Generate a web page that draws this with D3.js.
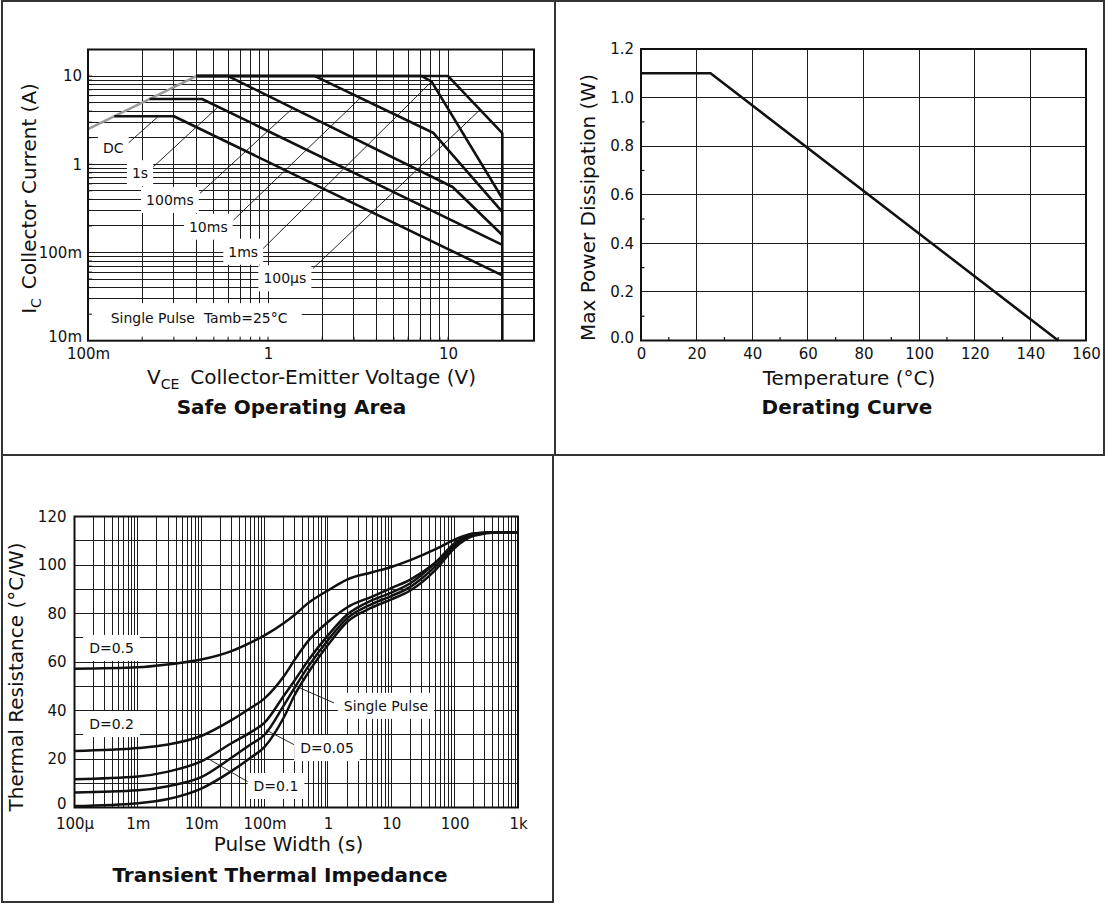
<!DOCTYPE html>
<html>
<head>
<meta charset="utf-8">
<script src="https://cdn.jsdelivr.net/npm/d3@7/dist/d3.min.js"></script>
<style>
html,body{margin:0;padding:0;background:#fff;}
svg{display:block;}
text{font-family:"DejaVu Sans","Liberation Sans",sans-serif;fill:#111;}
</style>
</head>
<body>
<svg id="chart" width="1106" height="904"></svg>
<script>
// ---------------- Safe Operating Area ----------------
const soaXTickValues = [0.1, 1, 10];
const soaXTickLabels = ["100m", "1", "10"];
const soaYTickValues = [0.01, 0.1, 1, 10];
const soaYTickLabels = ["10m", "100m", "1", "10"];
const soaLimitLine = [[0.1, 2.5], [0.4, 10]];
const soaDC    = [[0.14, 3.5], [0.30, 3.5], [20, 0.055]];
const soa1s    = [[0.22, 5.5], [0.43, 5.5], [20, 0.122]];
const soa100ms = [[0.4, 10], [0.6, 10], [10.6, 0.553], [20, 0.158]];
const soa10ms  = [[0.4, 10], [1.82, 10], [8.3, 2.26], [20, 0.288]];
const soa1ms   = [[0.4, 10], [7.14, 10], [8.1, 8.65], [20, 0.412]];
const soa100us = [[0.4, 10], [10.0, 10], [20, 2.25], [20, 0.01]];
const soaLabelNames = ["DC", "1s", "100ms", "10ms", "1ms", "100μs"];
const soaLabelPos = [[0.138, 1.52], [0.1945, 0.791], [0.285, 0.394], [0.466, 0.196], [0.728, 0.102], [1.24, 0.051]];
const soaLeaders = [
  [[0.167, 1.73], [0.246, 3.5]],
  [[0.226, 0.90], [0.53, 4.5]],
  [[0.419, 0.469], [1.376, 4.35]],
  [[0.643, 0.233], [3.27, 5.7]],
  [[0.923, 0.107], [8.1, 8.65]],
  [[1.78, 0.066], [15.0, 4.13]]
];
const soaNote = "Single Pulse\u00a0\u00a0Tamb=25°C";
const soaNotePos = [0.414, 0.018];

// ---------------- Derating Curve ----------------
const derXTicks = [0, 20, 40, 60, 80, 100, 120, 140, 160];
const derYTicks = [0, 0.2, 0.4, 0.6, 0.8, 1.0, 1.2];
const derMinorX = [10, 30, 50, 70, 90, 110, 130, 150];
const derMinorY = [0.1, 0.3, 0.5, 0.7, 0.9, 1.1];
const derCurve = [[0, 1.1], [25, 1.1], [150, 0]];

// ---------------- Transient Thermal Impedance ----------------
const zthXTickValues = [1e-4, 1e-3, 1e-2, 0.1, 1, 10, 100, 1000];
const zthXTickLabels = ["100μ", "1m", "10m", "100m", "1", "10", "100", "1k"];
const zthYTicks = [0, 20, 40, 60, 80, 100, 120];
const zthYGrid = [10, 20, 30, 40, 50, 60, 70, 80, 90, 100, 110];
const zthTime  = [1e-4, 1e-3, 3e-3, 1e-2, 3e-2, 0.06, 0.1, 0.2, 0.3, 0.5, 1, 2, 5, 10, 20, 50, 100, 200, 500, 1000];
const zthD05    = [57.2, 57.8, 59.0, 61.0, 64.5, 68.0, 71.0, 76.0, 79.5, 84.5, 89.5, 94.0, 97.0, 99.2, 102.0, 106.5, 110.5, 113.0, 113.5, 113.5];
const zthD02    = [23.3, 24.5, 26.0, 29.5, 36.0, 41.0, 45.0, 54.0, 61.0, 69.0, 76.5, 82.5, 87.0, 90.5, 94.0, 101.0, 108.5, 112.5, 113.5, 113.5];
const zthD01    = [11.7, 12.8, 14.8, 19.0, 26.5, 31.0, 35.0, 46.0, 52.5, 61.0, 71.0, 79.5, 85.5, 88.6, 92.5, 101.0, 109.0, 113.0, 113.5, 113.5];
const zthD005   = [6.2, 7.1, 8.8, 12.5, 20.5, 26.0, 30.0, 42.0, 49.5, 58.5, 69.0, 78.0, 84.0, 87.2, 91.0, 99.5, 108.0, 112.5, 113.5, 113.5];
const zthSingle = [0.6, 1.8, 3.5, 7.8, 15.0, 20.5, 25.0, 37.0, 46.5, 56.0, 67.0, 76.5, 82.5, 85.8, 89.5, 98.0, 107.0, 112.0, 113.5, 113.5];
const zthLabelNames = ["D=0.5", "D=0.2", "Single Pulse", "D=0.05", "D=0.1"];
const zthLabelPos = [[3.84e-4, 65.8], [3.84e-4, 34.4], [8.25, 41.9], [0.966, 24.5], [0.1514, 8.87]];
const zthLeaders = [
  [[1.25, 43.1], [0.362, 49.3]],
  [[0.298, 25.8], [0.105, 32.0]],
  [[0.0589, 10.1], [0.0123, 20.4]]
];

// ================= drawing =================
const svg = d3.select("#chart");
const INK = "#111";
const GRID = "#1c1c1c";

function logValues(lo, hi) {
  const out = [];
  for (let e = Math.floor(Math.log10(lo)) ; e <= Math.ceil(Math.log10(hi)); e++) {
    for (let k = 1; k < 10; k++) {
      const v = k * Math.pow(10, e);
      if (v > lo * 1.0001 && v < hi * 0.9999) out.push(+v.toPrecision(6));
    }
  }
  return out;
}

function layers(parent) {
  const L = {};
  ["grid", "lead", "box", "text", "tick", "curve", "frame"].forEach(k => L[k] = parent.append("g"));
  return L;
}

function addLabel(L, px, py, str, fs, padX, padY) {
  const t = L.text.append("text").attr("x", px).attr("y", py)
    .attr("text-anchor", "middle").attr("dominant-baseline", "central")
    .attr("font-size", fs).text(str);
  const bb = t.node().getBBox();
  L.box.append("rect").attr("x", bb.x - padX).attr("y", bb.y - padY)
    .attr("width", bb.width + 2 * padX).attr("height", bb.height + 2 * padY)
    .attr("fill", "#fff");
  return t;
}

function styleAxis(sel, fs) {
  sel.select(".domain").remove();
  sel.selectAll("text").attr("font-size", fs).attr("fill", INK);
}

// ----- panel borders -----
const borders = svg.append("g").attr("fill", "none").attr("stroke", "#333").attr("stroke-width", 2);
borders.append("rect").attr("x", 2).attr("y", 1).attr("width", 553).attr("height", 454);
borders.append("rect").attr("x", 555).attr("y", 1).attr("width", 549).attr("height", 454);
borders.append("rect").attr("x", 2).attr("y", 455).attr("width", 551).attr("height", 447);

// ================= SOA =================
(function () {
  const x = d3.scaleLog().domain([0.1, 30]).range([88, 534]);
  const y = d3.scaleLog().domain([0.01, 20]).range([340.7, 49.5]);
  const g = svg.append("g");
  const L = layers(g);
  const vx = logValues(0.1, 30), hy = logValues(0.01, 20);
  L.grid.selectAll("line.v").data(vx).join("line")
    .attr("x1", d => x(d)).attr("x2", d => x(d)).attr("y1", y(20)).attr("y2", y(0.01))
    .attr("stroke", GRID).attr("stroke-width", 1).attr("shape-rendering", "crispEdges");
  L.grid.selectAll("line.h").data(hy).join("line")
    .attr("y1", d => y(d)).attr("y2", d => y(d)).attr("x1", x(0.1)).attr("x2", x(30))
    .attr("stroke", GRID).attr("stroke-width", 1).attr("shape-rendering", "crispEdges");

  const line = d3.line().x(d => x(d[0])).y(d => y(d[1]));
  L.lead.selectAll("path").data(soaLeaders).join("path").attr("d", line)
    .attr("fill", "none").attr("stroke", INK).attr("stroke-width", 0.9);

  soaLabelNames.forEach((n, i) => addLabel(L, x(soaLabelPos[i][0]), y(soaLabelPos[i][1]), n, 14, 5, 5));

  const nt = L.text.append("text").attr("x", x(soaNotePos[0])).attr("y", y(soaNotePos[1]))
    .attr("text-anchor", "middle").attr("dominant-baseline", "central").attr("font-size", 14).text(soaNote);
  const bb = nt.node().getBBox();
  L.box.append("rect").attr("x", x(0.1) + 1).attr("y", bb.y - 7)
    .attr("width", bb.x + bb.width + 14 - x(0.1) - 1).attr("height", y(0.01) - bb.y + 7).attr("fill", "#fff");

  L.tick.selectAll("line.tx").data(vx).join("line")
    .attr("x1", d => x(d)).attr("x2", d => x(d)).attr("y1", y(0.01)).attr("y2", y(0.01) - 4)
    .attr("stroke", INK).attr("stroke-width", 1);
  L.tick.selectAll("line.ty").data(hy).join("line")
    .attr("y1", d => y(d)).attr("y2", d => y(d)).attr("x1", x(0.1)).attr("x2", x(0.1) + 4)
    .attr("stroke", INK).attr("stroke-width", 1);

  L.curve.append("path").datum(soaLimitLine).attr("d", line).attr("fill", "none")
    .attr("stroke", "#9b9b9b").attr("stroke-width", 2.6);
  L.curve.selectAll("path.c").data([soaDC, soa1s, soa100ms, soa10ms, soa1ms, soa100us]).join("path")
    .attr("class", "c").attr("d", line).attr("fill", "none").attr("stroke", INK)
    .attr("stroke-width", 2.6).attr("stroke-linejoin", "round");

  L.frame.append("rect").attr("x", x(0.1)).attr("y", y(20)).attr("width", x(30) - x(0.1))
    .attr("height", y(0.01) - y(20)).attr("fill", "none").attr("stroke", INK).attr("stroke-width", 2);

  const ax = g.append("g").attr("transform", `translate(0,${y(0.01)})`)
    .call(d3.axisBottom(x).tickValues(soaXTickValues).tickFormat(d => soaXTickLabels[soaXTickValues.indexOf(d)]).tickSize(0).tickPadding(8));
  styleAxis(ax, 15);
  const ay = g.append("g").attr("transform", `translate(${x(0.1)},0)`)
    .call(d3.axisLeft(y).tickValues(soaYTickValues).tickFormat(d => soaYTickLabels[soaYTickValues.indexOf(d)]).tickSize(0).tickPadding(6));
  styleAxis(ay, 15);
  ay.selectAll(".tick").filter(d => d === 0.01).select("text").attr("dy", "0.05em");

  const xt = g.append("text").attr("x", 311.5).attr("y", 384).attr("text-anchor", "middle").attr("font-size", 20);
  xt.append("tspan").text("V");
  xt.append("tspan").attr("font-size", 14).attr("dy", 5).text("CE");
  xt.append("tspan").attr("dy", -5).attr("dx", 11).text("Collector-Emitter Voltage (V)");

  const yt = g.append("text").attr("transform", "translate(35.5,198.5) rotate(-90)").attr("text-anchor", "middle").attr("font-size", 20);
  yt.append("tspan").text("I");
  yt.append("tspan").attr("font-size", 14).attr("dy", 5).text("C");
  yt.append("tspan").attr("dy", -5).attr("dx", 9).text("Collector Current (A)");

  g.append("text").attr("x", 291.5).attr("y", 414).attr("text-anchor", "middle")
    .attr("font-size", 20).attr("font-weight", "bold").text("Safe Operating Area");
})();

// ================= Derating =================
(function () {
  const x = d3.scaleLinear().domain([0, 160]).range([641, 1086]);
  const y = d3.scaleLinear().domain([0, 1.2]).range([340.5, 49]);
  const g = svg.append("g");
  const L = layers(g);
  L.grid.selectAll("line.v").data(derXTicks.slice(1, -1)).join("line")
    .attr("x1", d => x(d)).attr("x2", d => x(d)).attr("y1", y(1.2)).attr("y2", y(0))
    .attr("stroke", GRID).attr("stroke-width", 1).attr("shape-rendering", "crispEdges");
  L.grid.selectAll("line.h").data(derYTicks.slice(1, -1)).join("line")
    .attr("y1", d => y(d)).attr("y2", d => y(d)).attr("x1", x(0)).attr("x2", x(160))
    .attr("stroke", GRID).attr("stroke-width", 1).attr("shape-rendering", "crispEdges");
  L.tick.selectAll("line.tx").data(derMinorX).join("line")
    .attr("x1", d => x(d)).attr("x2", d => x(d)).attr("y1", y(0)).attr("y2", y(0) - 3.5)
    .attr("stroke", INK).attr("stroke-width", 1.2);
  L.tick.selectAll("line.ty").data(derMinorY).join("line")
    .attr("y1", d => y(d)).attr("y2", d => y(d)).attr("x1", x(0)).attr("x2", x(0) + 3.5)
    .attr("stroke", INK).attr("stroke-width", 1.2);
  const line = d3.line().x(d => x(d[0])).y(d => y(d[1]));
  L.curve.append("path").datum(derCurve).attr("d", line).attr("fill", "none")
    .attr("stroke", INK).attr("stroke-width", 2.5).attr("stroke-linejoin", "round");
  L.frame.append("rect").attr("x", x(0)).attr("y", y(1.2)).attr("width", x(160) - x(0))
    .attr("height", y(0) - y(1.2)).attr("fill", "none").attr("stroke", INK).attr("stroke-width", 2);

  const ax = g.append("g").attr("transform", `translate(0,${y(0)})`)
    .call(d3.axisBottom(x).tickValues(derXTicks).tickFormat(d3.format("d")).tickSize(0).tickPadding(8));
  styleAxis(ax, 15);
  const ay = g.append("g").attr("transform", `translate(${x(0)},0)`)
    .call(d3.axisLeft(y).tickValues(derYTicks).tickFormat(d3.format(".1f")).tickSize(0).tickPadding(7));
  styleAxis(ay, 15);
  ay.selectAll(".tick").filter(d => d === 0).select("text").attr("dy", "0.1em");

  g.append("text").attr("x", 849).attr("y", 385).attr("text-anchor", "middle").attr("font-size", 20).text("Temperature (°C)");
  g.append("text").attr("transform", "translate(595,207.5) rotate(-90)").attr("text-anchor", "middle")
    .attr("font-size", 20).text("Max Power Dissipation (W)");
  g.append("text").attr("x", 847).attr("y", 413.5).attr("text-anchor", "middle")
    .attr("font-size", 20).attr("font-weight", "bold").text("Derating Curve");
})();

// ================= Transient Thermal Impedance =================
(function () {
  const x = d3.scaleLog().domain([1e-4, 1e3]).range([74.5, 518]);
  const y = d3.scaleLinear().domain([0, 120]).range([807.5, 516.5]);
  const g = svg.append("g");
  const L = layers(g);
  const vx = logValues(1e-4, 1e3);
  L.grid.selectAll("line.v").data(vx).join("line")
    .attr("x1", d => x(d)).attr("x2", d => x(d)).attr("y1", y(120)).attr("y2", y(0))
    .attr("stroke", GRID).attr("stroke-width", 1).attr("shape-rendering", "crispEdges");
  L.grid.selectAll("line.h").data(zthYGrid).join("line")
    .attr("y1", d => y(d)).attr("y2", d => y(d)).attr("x1", x(1e-4)).attr("x2", x(1e3))
    .attr("stroke", GRID).attr("stroke-width", 1).attr("shape-rendering", "crispEdges");

  const line = d3.line().x(d => x(d[0])).y(d => y(d[1]));
  L.lead.selectAll("path").data(zthLeaders).join("path").attr("d", line)
    .attr("fill", "none").attr("stroke", INK).attr("stroke-width", 0.9);

  zthLabelNames.forEach((n, i) => addLabel(L, x(zthLabelPos[i][0]), y(zthLabelPos[i][1]), n, 14, 6, 5));

  const curve = d3.line().x(d => x(d[0])).y(d => y(d[1])).curve(d3.curveMonotoneX);
  const series = [zthD05, zthD02, zthD01, zthD005, zthSingle].map(s => zthTime.map((t, i) => [t, s[i]]));
  L.curve.selectAll("path").data(series).join("path").attr("d", curve)
    .attr("fill", "none").attr("stroke", INK).attr("stroke-width", 2.5);

  L.frame.append("rect").attr("x", x(1e-4)).attr("y", y(120)).attr("width", x(1e3) - x(1e-4))
    .attr("height", y(0) - y(120)).attr("fill", "none").attr("stroke", INK).attr("stroke-width", 2);

  const ax = g.append("g").attr("transform", `translate(0,${y(0)})`)
    .call(d3.axisBottom(x).tickValues(zthXTickValues).tickFormat(d => zthXTickLabels[zthXTickValues.indexOf(d)]).tickSize(0).tickPadding(11));
  styleAxis(ax, 15);
  const ay = g.append("g").attr("transform", `translate(${x(1e-4)},0)`)
    .call(d3.axisLeft(y).tickValues(zthYTicks).tickFormat(d3.format("d")).tickSize(0).tickPadding(8));
  styleAxis(ay, 15);
  ay.selectAll(".tick").filter(d => d === 0).select("text").attr("dy", "0.05em");

  g.append("text").attr("x", 288.5).attr("y", 851).attr("text-anchor", "middle").attr("font-size", 20).text("Pulse Width (s)");
  g.append("text").attr("transform", "translate(22.5,677) rotate(-90)").attr("text-anchor", "middle")
    .attr("font-size", 20).text("Thermal Resistance (°C/W)");
  g.append("text").attr("x", 280).attr("y", 882).attr("text-anchor", "middle")
    .attr("font-size", 20).attr("font-weight", "bold").text("Transient Thermal Impedance");
})();
</script>
</body>
</html>
